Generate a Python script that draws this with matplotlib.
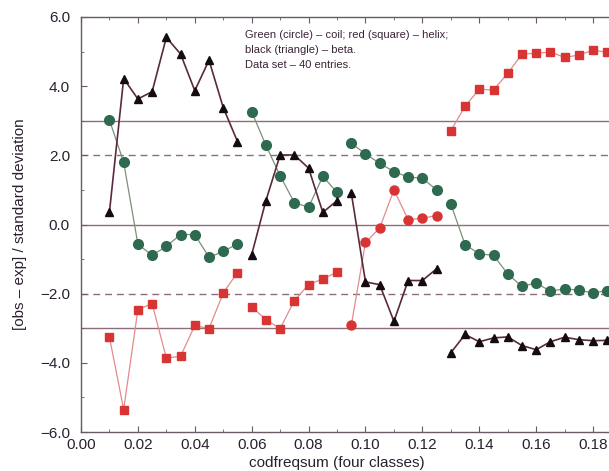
import matplotlib
matplotlib.use('Agg')
from matplotlib import pyplot as plt
from matplotlib import ticker

plt.rcParams['font.family'] = ['Liberation Sans', 'DejaVu Sans']

# x positions for the four classes
x_c1 = [0.010, 0.015, 0.020, 0.025, 0.030, 0.035, 0.040, 0.045, 0.050, 0.055]
x_c2 = [0.060, 0.065, 0.070, 0.075, 0.080, 0.085, 0.090]
x_c3 = [0.095, 0.100, 0.105, 0.110, 0.115, 0.120, 0.125]
x_c4 = [0.130, 0.135, 0.140, 0.145, 0.150, 0.155, 0.160, 0.165, 0.170, 0.175, 0.180, 0.185]

# green (circle) - coil
coil_c1 = [3.02, 1.80, -0.57, -0.89, -0.63, -0.29, -0.29, -0.95, -0.78, -0.56]
coil_c2 = [3.26, 2.29, 1.41, 0.63, 0.50, 1.39, 0.93]
coil_c3 = [2.35, 2.04, 1.77, 1.53, 1.37, 1.34, 1.00]
coil_c4 = [0.59, -0.58, -0.85, -0.89, -1.43, -1.79, -1.69, -1.93, -1.86, -1.90, -1.98, -1.91]

# red (square) - helix
helix_c1 = [-3.26, -5.35, -2.46, -2.29, -3.86, -3.81, -2.92, -3.01, -1.98, -1.39]
helix_c2 = [-2.38, -2.75, -3.01, -2.20, -1.74, -1.57, -1.38]
helix_c3 = [-2.92, -0.52, -0.10, 1.00, 0.14, 0.18, 0.26]
helix_c4 = [2.71, 3.42, 3.91, 3.89, 4.37, 4.93, 4.95, 4.99, 4.83, 4.90, 5.04, 4.98]

# black (triangle) - beta
beta_c1 = [0.36, 4.22, 3.63, 3.84, 5.41, 4.93, 3.87, 4.75, 3.38, 2.40]
beta_c2 = [-0.87, 0.69, 2.01, 2.01, 1.63, 0.35, 0.69]
beta_c3 = [0.92, -1.66, -1.74, -2.80, -1.62, -1.62, -1.28]
beta_c4 = [-3.71, -3.18, -3.39, -3.28, -3.25, -3.50, -3.62, -3.39, -3.26, -3.33, -3.36, -3.35]

solid_levels = [3.0, 0.0, -3.0]
dashed_levels = [2.0, -2.0]

note = ("Green (circle) \u2013 coil; red (square) \u2013 helix;\n"
        "black (triangle) \u2013 beta.\n"
        "Data set \u2013 40 entries.")

fig = plt.figure(figsize=(6.09, 4.71), dpi=100)
ax = fig.add_axes([81/609, 39/471, 1 - 81/609, 415/471])

refc = '#8e6c7c'
for lv in solid_levels:
    ax.axhline(lv, color=refc, lw=1.0, zorder=1)
for lv in dashed_levels:
    ax.axhline(lv, color=refc, lw=1.0, ls=(0, (5, 3.5)), zorder=1)

xs = [x_c1, x_c2, x_c3, x_c4]
coil = [coil_c1, coil_c2, coil_c3, coil_c4]
helix = [helix_c1, helix_c2, helix_c3, helix_c4]
beta = [beta_c1, beta_c2, beta_c3, beta_c4]

for i, x in enumerate(xs):
    ax.plot(x, coil[i], '-', color='#7d8f7a', lw=0.9, marker='o', ms=7,
            mfc='#2d6a50', mec='#2d6a50', zorder=3)
    mk = 'o' if i == 2 else 's'
    ax.plot(x, helix[i], '-', color='#e58a8a', lw=0.9, marker=mk,
            ms=6.5 if mk == 'o' else 5.8, mfc='#d83434', mec='#d83434', zorder=3)
    ax.plot(x, beta[i], '-', color='#5a2a3c', lw=1.2, marker='^', ms=6.3,
            mfc='#140c10', mec='#140c10', zorder=4)

ax.set_xlim(0, 0.1856)
ax.set_ylim(-6, 6)
ax.xaxis.set_major_locator(ticker.MultipleLocator(0.02))
ax.xaxis.set_minor_locator(ticker.MultipleLocator(0.01))
ax.yaxis.set_major_locator(ticker.MultipleLocator(2.0))
ax.yaxis.set_minor_locator(ticker.MultipleLocator(1.0))
ax.xaxis.set_major_formatter(ticker.FormatStrFormatter('%.2f'))
ax.yaxis.set_major_formatter(ticker.FuncFormatter(
    lambda v, p: ('%.1f' % v).replace('-', '\u2212')))

spc = '#6a5a68'
for s in ['left', 'bottom', 'top']:
    ax.spines[s].set_color(spc)
    ax.spines[s].set_linewidth(1.0)
ax.spines['right'].set_visible(False)

ax.tick_params(which='both', direction='in', top=True, right=False,
               color=spc, labelcolor='#2a2030', labelsize=11)
ax.tick_params(which='major', length=4, pad=8)
ax.tick_params(which='minor', length=2.5)
ax.tick_params(axis='x', pad=4)

ax.set_xlabel('codfreqsum (four classes)', fontsize=11, color='#2a2030')
ax.xaxis.set_label_coords((337 - 81) / 528, -0.058)
ax.set_ylabel('[obs \u2013 exp] / standard deviation', fontsize=11, color='#2a2030')
ax.yaxis.set_label_coords(-0.102, 0.5)

ax.text(245, 471 - 30, note, transform=None, fontsize=8, color='#3a2438',
        va='top', ha='left', linespacing=1.65)

fig.savefig('out.png', dpi=100)
